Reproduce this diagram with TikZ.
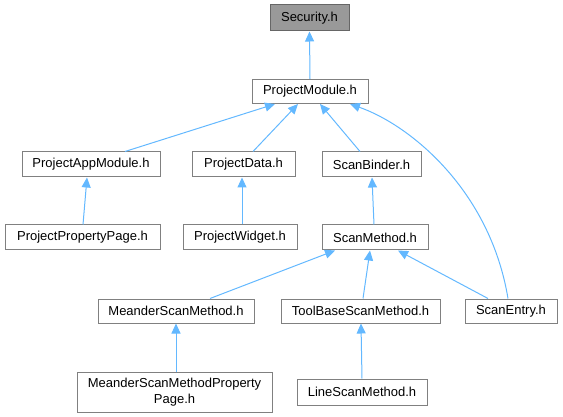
\documentclass[tikz,border=0pt]{standalone}
\usepackage{fontspec}
\setmainfont{Liberation Sans}
\usetikzlibrary{arrows.meta}
\definecolor{edgeblue}{HTML}{63B8FF}
\definecolor{boxline}{HTML}{808080}
\definecolor{secfill}{HTML}{999999}
\definecolor{secline}{HTML}{666666}
\begin{document}
\begin{tikzpicture}[x=1pt,y=-1pt,
  box/.style={draw=boxline,line width=1pt,fill=white,inner sep=0pt,minimum height=25pt,font=\fontsize{13}{15}\selectfont,text=black},
  edge/.style={draw=edgeblue,line width=1pt,-{Triangle[length=10pt,width=9pt]}}]
\useasboundingbox (0,0) rectangle (563,417);
\node[box,fill=secfill,draw=secline,minimum width=79pt,minimum height=26pt] (sec) at (309.5,18) {Security.h};
\node[box,minimum width=116pt,minimum height=24pt] (pm) at (310,91.5) {ProjectModule.h};
\node[box,minimum width=138pt] (pam) at (91,164.5) {ProjectAppModule.h};
\node[box,minimum width=103pt] (pd) at (243.5,164.5) {ProjectData.h};
\node[box,minimum width=99pt] (sb) at (371.5,164.5) {ScanBinder.h};
\node[box,minimum width=155pt] (ppp) at (82.5,237.5) {ProjectPropertyPage.h};
\node[box,minimum width=114pt] (pw) at (240,237.5) {ProjectWidget.h};
\node[box,minimum width=106pt] (sm) at (375,237.5) {ScanMethod.h};
\node[box,minimum width=156pt,minimum height=24pt] (msm) at (176,311) {MeanderScanMethod.h};
\node[box,minimum width=159pt,minimum height=24pt] (tbsm) at (360.5,311) {ToolBaseScanMethod.h};
\node[box,minimum width=92pt,minimum height=24pt] (se) at (511,311) {ScanEntry.h};
\node[box,minimum width=195pt,minimum height=40pt,align=center,font=\fontsize{13}{15.5}\selectfont] (msmpp) at (174.5,392) {MeanderScanMethodProperty\\Page.h};
\node[box,minimum width=130pt,minimum height=26pt] (lsm) at (362,392) {LineScanMethod.h};

\draw[edge] (pm.north) -- (sec.south);
\draw[edge] ([xshift=34pt]pam.north) -- ([xshift=-35pt]pm.south);
\draw[edge] ([xshift=9.5pt]pd.north) -- ([xshift=-12pt]pm.south);
\draw[edge] ([xshift=-11.5pt]sb.north) -- ([xshift=10pt]pm.south);
\draw[edge] ([xshift=-3pt]se.north) .. controls (490,190) and (410,125) .. ([xshift=40pt]pm.south);
\draw[edge] ([xshift=0.5pt]ppp.north) -- ([xshift=-4pt]pam.south);
\draw[edge] ([xshift=2pt]pw.north) -- ([xshift=-1.5pt]pd.south);
\draw[edge] ([xshift=-1pt]sm.north) -- ([xshift=0.5pt]sb.south);
\draw[edge] ([xshift=34pt]msm.north) -- ([xshift=-40pt]sm.south);
\draw[edge] ([xshift=2.5pt]tbsm.north) -- ([xshift=-5pt]sm.south);
\draw[edge] ([xshift=-23pt]se.north) -- ([xshift=23pt]sm.south);
\draw[edge] ([xshift=1.5pt]msmpp.north) -- (msm.south);
\draw[edge] (lsm.north) -- ([xshift=0.5pt]tbsm.south);
\end{tikzpicture}
\end{document}
